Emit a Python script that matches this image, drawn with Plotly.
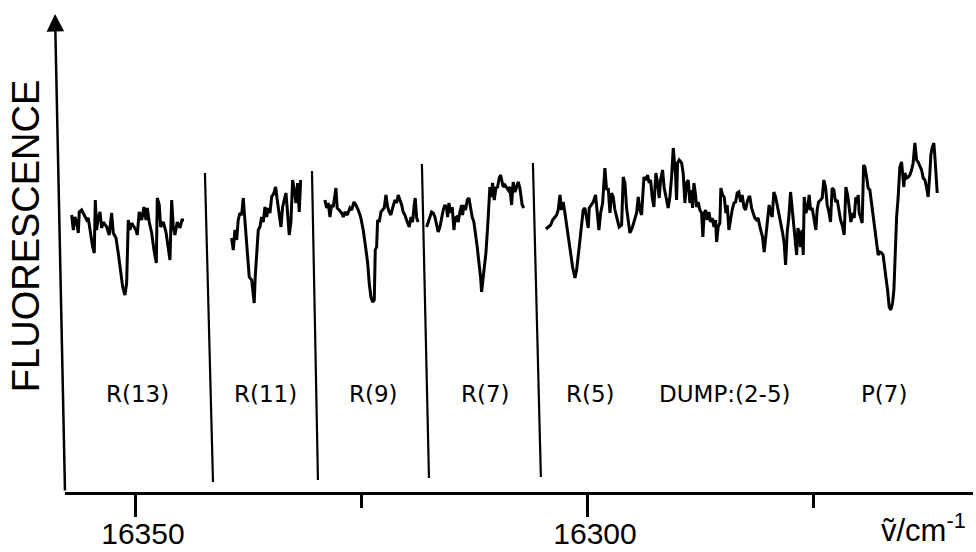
import plotly.graph_objects as go

# ---- data (wavenumber in cm^-1, fluorescence in arbitrary units) ----
r13_wn = [16357.11, 16356.93, 16356.75, 16356.56, 16356.38, 16356.27, 16356.01, 16355.75, 16355.45, 16355.28,
          16355.09, 16354.79, 16354.61, 16354.50, 16354.35, 16354.17, 16353.98, 16353.79, 16353.62, 16353.43,
          16353.24, 16352.96, 16352.69, 16352.51, 16352.21, 16351.96, 16351.69, 16351.47, 16351.22, 16351.03,
          16350.85, 16350.66, 16350.48, 16350.22, 16350.00, 16349.86, 16349.64, 16349.37, 16349.12, 16348.89,
          16348.75, 16348.53, 16348.26, 16348.01, 16347.75, 16347.64, 16347.42, 16347.27, 16346.98, 16346.68,
          16346.43, 16346.24, 16346.05, 16345.87, 16345.69, 16345.43, 16345.13, 16344.91, 16344.69]
r13_f = [277, 262, 275, 270, 259, 280, 282, 277, 272, 274,
         262, 245, 239, 292, 262, 275, 280, 264, 270, 267,
         265, 257, 279, 259, 254, 239, 219, 205, 197, 209,
         272, 262, 269, 265, 262, 257, 280, 272, 285, 272,
         284, 270, 259, 242, 229, 294, 287, 265, 270, 260,
         242, 232, 292, 265, 257, 270, 264, 272, 272]

r11_wn = [16339.42, 16339.24, 16339.05, 16338.86, 16338.69, 16338.50, 16338.31, 16338.13, 16338.02, 16337.83,
          16337.65, 16337.47, 16337.20, 16337.03, 16336.92, 16336.81, 16336.65, 16336.47, 16336.29, 16336.10,
          16335.92, 16335.73, 16335.54, 16335.37, 16335.18, 16334.99, 16334.74, 16334.55, 16334.37, 16334.15,
          16333.96, 16333.78, 16333.60, 16333.41, 16333.27, 16333.05, 16332.86, 16332.67, 16332.49, 16332.30,
          16332.12, 16331.94, 16331.78]
r11_f = [254, 242, 262, 252, 272, 279, 277, 294, 280, 259,
         242, 215, 212, 195, 189, 215, 239, 262, 265, 275,
         270, 285, 275, 284, 279, 295, 299, 305, 292, 279,
         265, 285, 292, 299, 284, 257, 270, 312, 302, 289,
         309, 280, 312]

r9_wn = [16329.10, 16328.91, 16328.73, 16328.54, 16328.36, 16328.18, 16327.88, 16327.74, 16327.52, 16327.25,
         16327.07, 16326.88, 16326.63, 16326.33, 16326.14, 16325.89, 16325.67, 16325.41, 16325.15, 16324.86,
         16324.60, 16324.37, 16324.20, 16324.01, 16323.82, 16323.64, 16323.53, 16323.38, 16323.27, 16323.09,
         16322.90, 16322.72, 16322.54, 16322.35, 16322.16, 16321.99, 16321.80, 16321.61, 16321.35, 16321.17,
         16320.99, 16320.80, 16320.61, 16320.44, 16320.25, 16319.99, 16319.77, 16319.58, 16319.40, 16319.22,
         16319.11, 16318.95, 16318.78]
r9_f = [292, 284, 289, 275, 287, 285, 304, 284, 282, 279,
        275, 280, 277, 284, 282, 290, 287, 282, 275, 262,
        245, 229, 209, 195, 190, 192, 242, 245, 272, 270,
        280, 282, 284, 297, 285, 280, 277, 284, 292, 289,
        297, 292, 287, 280, 277, 270, 265, 275, 270, 287,
        294, 274, 270]

r7_wn = [16317.85, 16317.67, 16317.48, 16317.30, 16317.12, 16316.93, 16316.74, 16316.57, 16316.38, 16316.19,
         16316.01, 16315.82, 16315.64, 16315.53, 16315.38, 16315.19, 16315.02, 16314.83, 16314.69, 16314.53,
         16314.35, 16314.17, 16313.98, 16313.87, 16313.72, 16313.54, 16313.36, 16313.17, 16312.98, 16312.81,
         16312.62, 16312.43, 16312.25, 16312.06, 16311.88, 16311.77, 16311.62, 16311.48, 16311.29, 16311.10,
         16310.96, 16310.85, 16310.70, 16310.55, 16310.37, 16310.18, 16310.00, 16309.82, 16309.66, 16309.52,
         16309.38, 16309.19, 16309.00, 16308.82, 16308.64, 16308.45, 16308.27, 16308.08, 16307.89, 16307.72,
         16307.53, 16307.42, 16307.28, 16307.09]
r7_f = [265, 270, 277, 280, 279, 275, 267, 260, 265, 274,
        282, 287, 284, 275, 289, 279, 285, 262, 274, 275,
        270, 280, 287, 277, 287, 282, 292, 294, 284, 275,
        270, 259, 245, 229, 215, 200, 212, 222, 239, 265,
        289, 305, 295, 309, 292, 304, 305, 314, 317, 310,
        305, 307, 304, 302, 305, 287, 310, 300, 305, 310,
        304, 295, 287, 284]

dump_wn = [16304.65, 16304.40, 16304.13, 16303.91, 16303.66, 16303.47, 16303.29, 16303.10, 16302.92, 16302.74,
           16302.55, 16302.30, 16302.00, 16301.70, 16301.44, 16301.26, 16300.97, 16300.70, 16300.53, 16300.34,
           16300.15, 16299.97, 16299.86, 16299.60, 16299.42, 16299.16, 16298.98, 16298.79, 16298.60, 16298.38,
           16298.13, 16297.94, 16297.76, 16297.57, 16297.39, 16297.21, 16297.02, 16296.77, 16296.55, 16296.28,
           16296.10, 16295.91, 16295.73, 16295.51, 16295.36, 16295.11, 16294.81, 16294.62, 16294.44, 16294.26,
           16294.07, 16293.81, 16293.59, 16293.40, 16293.23, 16293.07, 16292.90, 16292.71, 16292.49, 16292.30,
           16292.12, 16291.97, 16291.75, 16291.57, 16291.30, 16291.13, 16290.94, 16290.75, 16290.57, 16290.46,
           16290.31, 16290.20, 16290.09, 16289.91, 16289.64, 16289.47, 16289.28, 16289.09, 16288.91, 16288.73,
           16288.58, 16288.43, 16288.28, 16288.10, 16287.99, 16287.81, 16287.62, 16287.43, 16287.29, 16287.14,
           16286.99, 16286.81, 16286.62, 16286.44, 16286.26, 16286.07, 16285.88, 16285.77, 16285.60, 16285.41,
           16285.30, 16285.11, 16284.93, 16284.74, 16284.60, 16284.41, 16284.22, 16284.05, 16283.86, 16283.67,
           16283.49, 16283.31, 16283.12, 16282.94, 16282.75, 16282.57, 16282.39, 16282.20, 16282.09, 16281.90,
           16281.73, 16281.54, 16281.35, 16281.17, 16280.98, 16280.69, 16280.51, 16280.32, 16280.18, 16279.96,
           16279.80, 16279.62, 16279.44, 16279.25, 16279.07, 16278.88, 16278.69, 16278.47, 16278.30, 16278.14,
           16277.96, 16277.78, 16277.59, 16277.44, 16277.30, 16277.11, 16276.92, 16276.78, 16276.64, 16276.48,
           16276.31, 16276.19, 16276.08, 16275.90, 16275.71, 16275.53, 16275.38, 16275.20, 16275.01, 16274.79,
           16274.65, 16274.49, 16274.27, 16274.09, 16273.91, 16273.72, 16273.54, 16273.35, 16273.17, 16272.99,
           16272.80, 16272.61, 16272.43, 16272.25, 16272.06, 16271.88, 16271.66, 16271.47, 16271.28, 16271.11,
           16270.92, 16270.73, 16270.55, 16270.37, 16270.22, 16270.11, 16270.00, 16269.85, 16269.67, 16269.51,
           16269.37, 16269.18, 16269.01, 16268.82, 16268.63, 16268.45, 16268.26, 16268.08, 16267.90, 16267.71,
           16267.52, 16267.35, 16267.24, 16267.05, 16266.86, 16266.68, 16266.50, 16266.31, 16266.16, 16266.02,
           16265.86, 16265.69, 16265.50, 16265.31, 16265.20, 16265.06, 16264.95, 16264.76, 16264.58, 16264.39,
           16264.21, 16264.03, 16263.84, 16263.65, 16263.48, 16263.29, 16263.10, 16262.92, 16262.73, 16262.55,
           16262.37, 16262.18, 16262.07, 16261.93, 16261.74, 16261.60, 16261.44, 16261.37]
dump_f = [263, 265, 267, 272, 275, 277, 282, 297, 282, 290,
          279, 262, 242, 225, 214, 222, 245, 265, 282, 284,
          275, 264, 284, 287, 290, 297, 277, 262, 279, 289,
          324, 302, 304, 279, 299, 295, 282, 272, 265, 267,
          315, 309, 284, 269, 259, 264, 272, 279, 295, 282,
          277, 315, 312, 317, 309, 312, 295, 285, 319, 309,
          294, 312, 322, 304, 292, 284, 295, 315, 344, 334,
          317, 292, 329, 332, 329, 319, 289, 309, 312, 289,
          302, 284, 309, 297, 285, 290, 282, 279, 255, 279,
          282, 272, 280, 270, 274, 265, 272, 250, 265, 269,
          304, 297, 295, 279, 287, 262, 275, 282, 289, 290,
          299, 300, 290, 297, 285, 282, 290, 295, 295, 284,
          279, 274, 272, 274, 265, 255, 240, 259, 269, 287,
          280, 275, 300, 295, 287, 279, 269, 259, 249, 227,
          260, 275, 300, 285, 267, 249, 237, 264, 259, 245,
          262, 237, 295, 279, 284, 297, 282, 284, 274, 262,
          282, 290, 292, 294, 312, 305, 287, 280, 270, 304,
          302, 290, 292, 282, 272, 267, 257, 305, 297, 285,
          270, 279, 274, 295, 289, 297, 279, 275, 269, 327,
          325, 315, 304, 302, 289, 274, 262, 250, 237, 240,
          239, 237, 227, 215, 202, 185, 182, 189, 202, 242,
          275, 295, 325, 330, 319, 305, 319, 314, 315, 317,
          322, 329, 349, 332, 330, 325, 322, 314, 312, 305,
          295, 319, 337, 344, 349, 332, 312, 299]

segments = [(r13_wn, r13_f), (r11_wn, r11_f), (r9_wn, r9_f), (r7_wn, r7_f), (dump_wn, dump_f)]

# boundaries between the recorded pieces (top and bottom ends, scan is slightly skewed)
sep_top_wn = [16342.37, 16330.53, 16318.37, 16306.09]
sep_top_f = [319, 321, 328, 329]
sep_bot_wn = [16341.48, 16329.87, 16317.59, 16305.21]
sep_bot_f = [10, 12, 14, 15]

line_labels = ["R(13)", "R(11)", "R(9)", "R(7)", "R(5)", "DUMP:(2-5)", "P(7)"]
line_label_wn = [16349.78, 16335.62, 16323.68, 16311.29, 16299.68, 16284.85, 16267.27]
line_label_f = 98

major_ticks = [16350, 16300]
major_tick_text = ["16350", "16300"]
minor_ticks = [16325, 16275]

x_range = [16357.85, 16257.41]
y_range = [0, 480]

# ---- figure ----
fig = go.Figure()
for wn, f in segments:
    fig.add_trace(go.Scatter(x=wn, y=f, mode="lines",
                             line=dict(color="black", width=3),
                             showlegend=False, hoverinfo="skip"))

for xt, yt, xb, yb in zip(sep_top_wn, sep_top_f, sep_bot_wn, sep_bot_f):
    fig.add_shape(type="line", xref="x", yref="y", x0=xt, y0=yt, x1=xb, y1=yb,
                  line=dict(color="black", width=2.2))

lab_font = dict(family="DejaVu Sans, Liberation Sans, sans-serif", size=23, color="black")
for txt, wn in zip(line_labels, line_label_wn):
    fig.add_annotation(x=wn, y=line_label_f, xref="x", yref="y", text=txt,
                       showarrow=False, font=lab_font, xanchor="center", yanchor="middle")

# vertical axis with arrow (slightly skewed like the scan)
fig.add_annotation(x=-0.011, y=478, xref="paper", yref="y", ax=10, ay=478,
                   axref="pixel", ayref="pixel", text="", showarrow=True,
                   arrowhead=2, arrowsize=1.4, arrowwidth=2.5, arrowcolor="black", standoff=0)

fig.add_annotation(x=-0.043, y=0.535, xref="paper", yref="paper", text="FLUORESCENCE",
                   textangle=-90, showarrow=False,
                   font=dict(family="Liberation Sans, Arial, sans-serif", size=38, color="black"),
                   xanchor="center", yanchor="middle")

fig.add_annotation(x=0.995, y=-0.121, xref="paper", yref="paper", text="ṽ/cm<sup>-1</sup>",
                   showarrow=False, xanchor="right", yanchor="bottom",
                   font=dict(family="Liberation Sans, DejaVu Sans, sans-serif", size=31, color="black"))

fig.update_xaxes(range=x_range, showgrid=False, zeroline=False, automargin=False,
                 showline=True, linecolor="black", linewidth=2.5,
                 tickmode="array", tickvals=major_ticks, ticktext=major_tick_text,
                 ticks="outside", ticklen=22, tickwidth=2.5, tickcolor="black",
                 ticklabelshift=-7, ticklabelstandoff=-9,
                 tickfont=dict(family="Liberation Sans, Arial, sans-serif", size=30, color="black"),
                 minor=dict(tickmode="array", tickvals=minor_ticks, ticks="outside",
                            ticklen=13, tickwidth=2.5, tickcolor="black", showgrid=False))
fig.update_yaxes(range=y_range, visible=False, automargin=False)

fig.update_layout(width=976, height=552,
                  margin=dict(l=65, r=3, t=12, b=60, autoexpand=False),
                  paper_bgcolor="white", plot_bgcolor="white")

fig.write_html("out.html")
